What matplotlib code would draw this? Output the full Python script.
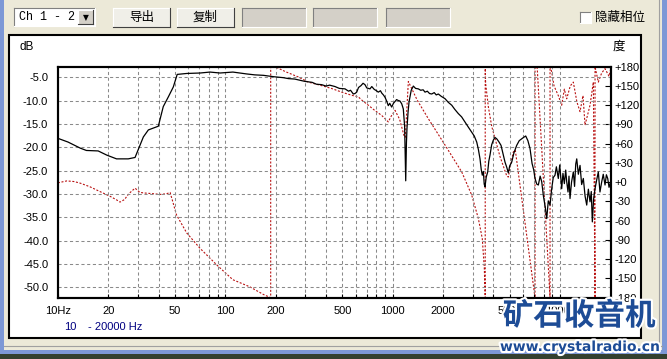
import matplotlib
matplotlib.use("Agg")
import matplotlib.pyplot as plt
import matplotlib.patheffects as pe
from matplotlib.patches import Rectangle
from matplotlib.lines import Line2D
from matplotlib.ticker import FixedLocator, FixedFormatter, NullFormatter

plt.rcParams['font.family'] = ['Liberation Sans', 'Noto Sans CJK SC', 'DejaVu Sans']

# magnitude (black, dB)
mag_freq = [10, 11.5, 13.6, 14.8, 17.4, 19.6, 22.4, 26.3, 28.9, 30.2, 32.4, 34.7, 39.8, 42.6,
            45.7, 48.9, 51.6, 58.8, 70.8, 81, 93, 111, 134, 150, 169, 195, 222, 238, 260, 299,
            330, 350, 376.6, 400, 420, 452, 480, 519, 545, 560, 581.6, 595, 609.5, 625, 646.7,
            665, 683, 700, 731.8, 750, 775, 800, 820, 845, 860, 880, 899.5, 920, 941, 960, 986,
            1010, 1032, 1055, 1080, 1105, 1132, 1157, 1178, 1196, 1208, 1217, 1235, 1252, 1290,
            1328, 1370, 1422, 1470, 1520, 1560, 1610, 1660, 1710, 1770, 1820, 1873, 1950, 2053,
            2150, 2252, 2350, 2466, 2580, 2704, 2830, 2964, 3070, 3176, 3250, 3323, 3380, 3429,
            3480, 3520, 3559, 3620, 3694, 3750, 3812, 3900, 3990, 4080, 4181, 4300, 4436, 4560,
            4687, 4800, 4904, 5000, 5139, 5300, 5505, 5700, 5898, 6050, 6231, 6420, 6611, 6800,
            6950, 7082, 7250, 7413, 7600, 7766, 7950, 8150, 8318, 8500, 8707, 8900, 9100, 9322,
            9500, 9754, 9950, 10222, 10400, 10600, 10800, 10950, 11150, 11300, 11460, 11700,
            11993, 12200, 12400, 12571, 12850, 13153, 13450, 13763, 14100, 14420, 14750, 15090,
            15350, 15577, 15850, 16167, 16500, 16917, 17300, 17727, 18100, 18550, 18900, 19250,
            19600, 20000]
mag_db = [-18.1, -18.9, -20.2, -20.7, -20.8, -21.7, -22.5, -22.5, -22.2, -20.5, -17.8, -16.3,
          -15.5, -11.3, -9.2, -7.1, -4.4, -4.2, -4.1, -3.9, -4.1, -3.9, -4.3, -4.5, -4.6, -4.9,
          -5.1, -5.3, -5.4, -5.9, -6.1, -6.5, -6.6, -6.9, -6.7, -7.0, -7.4, -7.5, -8.0, -7.8,
          -8.6, -8.5, -8.2, -7.2, -6.8, -6.3, -6.6, -7.3, -7.5, -7.0, -7.6, -7.9, -8.2, -7.9,
          -8.4, -8.8, -9.3, -10.1, -11.1, -10.6, -11.4, -10.6, -10.2, -9.8, -10.0, -10.1, -10.7,
          -11.8, -15.5, -27.2, -19.0, -16.0, -12.5, -10.3, -7.8, -6.9, -7.4, -7.5, -7.8, -7.7,
          -8.2, -8.0, -8.5, -8.6, -8.3, -8.8, -8.6, -9.1, -9.6, -10.4, -11.0, -11.9, -12.8,
          -13.5, -14.6, -15.7, -16.8, -17.6, -18.9, -20.5, -22.5, -24.8, -26.0, -25.2, -27.9,
          -28.5, -26.4, -25.3, -23.0, -21.7, -19.5, -18.5, -17.9, -18.2, -18.8, -19.6, -21.4,
          -23.2, -24.3, -25.5, -24.0, -23.2, -21.2, -19.6, -18.6, -18.2, -17.9, -17.6, -18.6,
          -20.3, -23.5, -24.8, -26.7, -27.9, -28.1, -26.2, -27.4, -30.5, -32.8, -35.3, -31.5,
          -32.4, -29.0, -26.5, -26.0, -24.2, -26.7, -23.8, -28.9, -25.6, -27.8, -24.9, -27.4,
          -29.6, -26.2, -31.0, -27.5, -25.3, -28.4, -23.6, -22.5, -25.8, -23.9, -28.0, -26.7,
          -30.5, -32.4, -29.0, -31.7, -29.5, -36.0, -31.2, -28.9, -27.2, -25.3, -29.6, -27.4,
          -25.8, -28.1, -25.9, -26.7, -28.6, -27.5]

# phase (red dashed, degrees; wraps drawn as vertical jumps)
ph_freq = [10, 11.3, 12.5, 13.6, 15.5, 17.8, 20.5, 22.4, 23.5, 25, 26.5, 28.9, 30.9, 33.5, 37.2,
           41, 44.6, 46.8, 48.2, 51.1, 58.8, 70.6, 89, 111, 140, 169, 186.7, 186.7, 200, 230,
           273, 313, 370, 432, 500, 569, 623, 660, 715, 780, 860, 941, 980, 1032, 1100, 1170,
           1190, 1240, 1400, 1632, 2053, 2584, 2964, 3247, 3429, 3525, 3570, 3570, 3590, 3725,
           3903, 4375, 4797, 4904, 5050, 5253, 5400, 7082, 7082, 7300, 8707, 8707, 8910, 9200,
           9754, 10222, 10600, 10950, 11500, 11993, 12600, 13153, 13700, 14085, 14600, 15090,
           15795, 16167, 16167, 16917, 17700, 18550, 19600, 20000]
ph_deg = [-1, 2, 1, -1.5, -7, -14.5, -22, -27.5, -31, -27, -18, -9.3, -16, -17, -18, -19, -18,
          -16, -27.5, -51, -79, -103, -129, -152, -163, -175, -180, 180, 179.5, 172, 164, 156,
          151, 146, 140, 135.5, 133, 127, 120, 112, 104, 94, 103, 112, 98, 72, 70, 157, 128, 99,
          58, 16, -20, -56.5, -88, -134, -180, 180, 154, 118, 87, 40, 10, 8, 25, 47, 50, -180,
          180, 178, -180, 180, 172, 150, 135, 120, 145, 130, 150, 156, 125, 110, 135, 89, 105,
          120, 156, -180, 180, 156, 170, 177, 165, 175]

x_major = [10, 20, 50, 100, 200, 500, 1000, 2000, 5000, 10000]
x_labels = ["10Hz", "20", "50", "100", "200", "500", "1000", "2000", "5000", "10000"]
x_grid = [20, 30, 40, 50, 60, 70, 80, 90, 100, 200, 300, 400, 500, 600, 700, 800, 900,
          1000, 2000, 3000, 4000, 5000, 6000, 7000, 8000, 9000, 10000]
db_ticks = [-5, -10, -15, -20, -25, -30, -35, -40, -45, -50]
deg_ticks = [180, 150, 120, 90, 60, 30, 0, -30, -60, -90, -120, -150, -180]

W, H = 667, 359
BG = "#ECE9D8"
fig = plt.figure(figsize=(W / 100, H / 100), dpi=100)
fig.patch.set_facecolor(BG)


def rect(x0, y0, x1, y1, **kw):
    kw.setdefault("zorder", -3)
    fig.patches.append(Rectangle((x0 / W, 1 - y1 / H), (x1 - x0) / W, (y1 - y0) / H,
                                 transform=fig.transFigure, **kw))


def line(x0, y0, x1, y1, **kw):
    kw.setdefault("zorder", -2)
    fig.lines.append(Line2D([x0 / W, x1 / W], [1 - y0 / H, 1 - y1 / H],
                            transform=fig.transFigure, **kw))


def text(x, y, s, **kw):
    fig.text(x / W, 1 - y / H, s, **kw)


def bevel(x0, y0, x1, y1, face, sunken=False):
    rect(x0, y0, x1, y1, facecolor=face, edgecolor="none")
    hi, lo = ("#808080", "#FFFFFF") if sunken else ("#FFFFFF", "#404040")
    line(x0, y0, x1, y0, color=hi, lw=0.8)
    line(x0, y0, x0, y1, color=hi, lw=0.8)
    line(x0, y1, x1, y1, color=lo, lw=0.8)
    line(x1, y0, x1, y1, color=lo, lw=0.8)


# window frame bits
rect(0, 0, 4, H, facecolor="#7D98D6", edgecolor="none")
rect(662, 0, W, H, facecolor="#7D98D6", edgecolor="none")
line(659, 0, 659, 345, color="#A0A0A0", lw=0.8)
line(4, 346, 662, 346, color="#A0A0A0", lw=0.8)
rect(0, 350, W, 354, facecolor="#7D98D6", edgecolor="none")
rect(0, 354, W, H, facecolor="#34402F", edgecolor="none")

# toolbar
bevel(14, 8, 95, 26, "#FFFFFF", sunken=True)
text(19, 17.5, "Ch 1 - 2", family="Liberation Mono", fontsize=8.5, va="center")
bevel(78, 10, 93, 24, "#D4D0C8")
text(85.5, 17.5, "\u25BC", family="DejaVu Sans", fontsize=5.5, ha="center", va="center")
bevel(113, 8, 170, 27, "#F0EFE8")
text(141.5, 17.5, "导出", fontsize=9, ha="center", va="center")
bevel(177, 8, 234, 27, "#F0EFE8")
text(205.5, 17.5, "复制", fontsize=9, ha="center", va="center")
for x0, x1 in [(242, 306), (313, 377), (386, 450)]:
    bevel(x0, 8, x1, 27, "#D4D0C8", sunken=True)
bevel(580, 12, 591, 23, "#FFFFFF", sunken=True)
text(595, 17.5, "隐藏相位", fontsize=9, va="center")

# white chart panel
rect(9, 35, 641, 338, facecolor="white", edgecolor="black", lw=1.5)

ax_l, ax_r, ax_t, ax_b = 57.9, 610.5, 66.7, 297.7
ax = fig.add_axes([ax_l / W, 1 - ax_b / H, (ax_r - ax_l) / W, (ax_b - ax_t) / H])
ax.set_xscale("log")
ax.set_xlim(10, 20000)
ax.set_ylim(-52.25, -2.75)

ax.xaxis.set_major_locator(FixedLocator(x_major))
ax.xaxis.set_major_formatter(FixedFormatter(x_labels))
ax.xaxis.set_minor_locator(FixedLocator(x_grid))
ax.xaxis.set_minor_formatter(NullFormatter())
ax.set_yticks(db_ticks)
ax.set_yticklabels([f"{v:.1f}" for v in db_ticks])
ax.tick_params(axis="x", which="both", direction="in", length=3, width=0.8, pad=6,
               labelsize=8)
ax.tick_params(axis="y", length=0, pad=7, labelsize=8)

for v in x_grid:
    ax.axvline(v, color="#8A8A8A", lw=0.75, ls=(0, (3, 2.5)), zorder=1)
for v in db_ticks:
    ax.axhline(v, color="#8A8A8A", lw=0.75, ls=(0, (3, 2.5)), zorder=1)

for s in ax.spines.values():
    s.set_linewidth(1.5)
    s.set_color("black")

ax.plot(mag_freq, mag_db, color="black", lw=0.9, zorder=4)

ax2 = ax.twinx()
ax2.set_ylim(-180, 180)
ax2.set_yticks(deg_ticks)
ax2.set_yticklabels([f"+{v}" if v >= 0 else f"{v}" for v in deg_ticks])
ax2.tick_params(axis="y", direction="in", length=4, width=0.8, pad=3, labelsize=8)
ax2.plot(ph_freq, ph_deg, color="#B81010", lw=0.8, ls=(0, (1.8, 1.5)), zorder=3)
for s in ax2.spines.values():
    s.set_linewidth(1.5)
ax2.set_zorder(1)
ax.set_zorder(2)
ax.patch.set_visible(False)
ax2.patch.set_facecolor("white")

text(20, 47, "dB", fontsize=8.5, va="center")
text(613, 47, "度", fontsize=9, va="center")
text(70, 327, "10", fontsize=8, color="#000080", ha="center", va="center")
text(88, 327, "- 20000 Hz", fontsize=8, color="#000080", va="center")

# site watermark
wm = [pe.withStroke(linewidth=3, foreground="white")]
text(579, 316, "矿石收音机", family="Noto Sans CJK SC", fontsize=22, weight="bold",
     color="#1D4C96", ha="center", va="center", path_effects=wm, zorder=10)
text(580, 347, "www.crystalradio.cn", family="DejaVu Sans", fontsize=10, weight="bold",
     color="#1D4C96", ha="center", va="center", path_effects=wm, zorder=10)

fig.savefig("out.png", dpi=100, facecolor=BG)
